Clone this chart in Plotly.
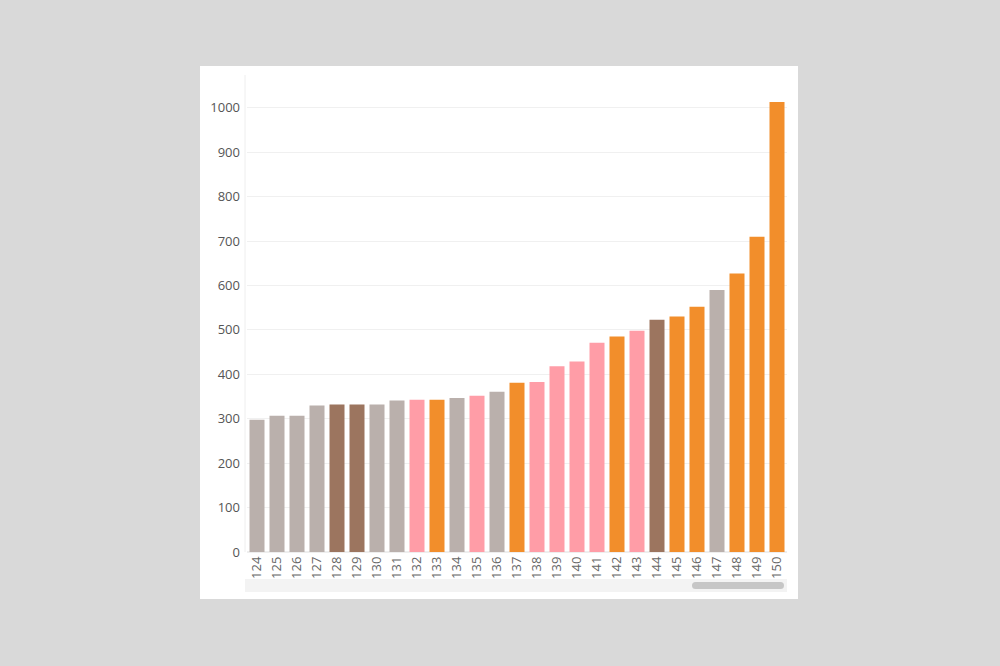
import plotly.graph_objects as go

# ------ Data
categorias = [str(n) for n in range(124, 151)]
valores = [298, 307, 307, 330, 332, 332, 332, 341, 343, 343, 347, 352, 361, 381,
           383, 418, 429, 471, 485, 498, 523, 530, 552, 590, 627, 710, 1013]
grupo = ['gris', 'gris', 'gris', 'gris', 'cafe', 'cafe', 'gris', 'gris', 'rosa',
         'naranja', 'gris', 'rosa', 'gris', 'naranja', 'rosa', 'rosa', 'rosa', 'rosa',
         'naranja', 'rosa', 'cafe', 'naranja', 'naranja', 'gris', 'naranja',
         'naranja', 'naranja']
y_ticks = [0, 100, 200, 300, 400, 500, 600, 700, 800, 900, 1000]

colores = {'gris': '#BAB0AC', 'cafe': '#9C755F', 'rosa': '#FF9DA7', 'naranja': '#F28E2B'}

## ------ Layout helpers (pixels -> paper)
W, H = 1000, 666
L, R, T, B = 247, 787, 75, 552

def px_x(p):
    return (p - L) / (R - L)

def px_y(p):
    return (B - p) / (B - T)

def rect(x0, y0, x1, y1, color, layer='below', line=None):
    return dict(type='rect', xref='paper', yref='paper', layer=layer,
                x0=px_x(x0), x1=px_x(x1), y0=px_y(y1), y1=px_y(y0),
                fillcolor=color, line=line or dict(width=0))

def circ(x0, y0, x1, y1, color):
    d = rect(x0, y0, x1, y1, color)
    d['type'] = 'circle'
    return d

shapes = [
    rect(200, 66, 798, 599, 'white'),
    # scroll bar
    rect(245, 579, 787, 592, '#f3f3f3'),
    rect(695.5, 582, 780.5, 589, '#c6c6c6'),
    circ(692, 582, 699, 589, '#c6c6c6'),
    circ(777, 582, 784, 589, '#c6c6c6'),
    # axis line
    dict(type='line', xref='paper', yref='paper', x0=px_x(245), x1=px_x(245),
         y0=0, y1=1, line=dict(color='#eeeeee', width=1), layer='below'),
]

fig = go.Figure(go.Bar(
    x=categorias, y=valores,
    marker=dict(color=[colores[g] for g in grupo], line=dict(width=0)),
    hovertemplate='%{x}: %{y}<extra></extra>',
))

fig.update_layout(
    width=W, height=H,
    margin=dict(l=L, r=W - R, t=T, b=H - B),
    paper_bgcolor='#d9d9d9',
    plot_bgcolor='rgba(0,0,0,0)',
    font=dict(family='Open Sans', size=12, color='#666666'),
    bargap=0.25,
    showlegend=False,
    shapes=shapes,
)
fig.update_xaxes(type='category', tickangle=-90, showgrid=False, showline=False,
                 ticks='', tickfont=dict(size=13, color='#666666'),
                 ticklabelstandoff=1)
fig.update_yaxes(range=[0, 1074], tickvals=y_ticks, showgrid=True,
                 gridcolor='#f0f0f0', zeroline=True, zerolinecolor='#eeeeee',
                 showline=False, ticks='', tickfont=dict(size=13, color='#555555'),
                 ticklabelstandoff=6)

fig.write_html("out.html", config={'displayModeBar': False},
               post_script="document.body.style.margin='0';"
                           "document.body.style.background='#d9d9d9';")
